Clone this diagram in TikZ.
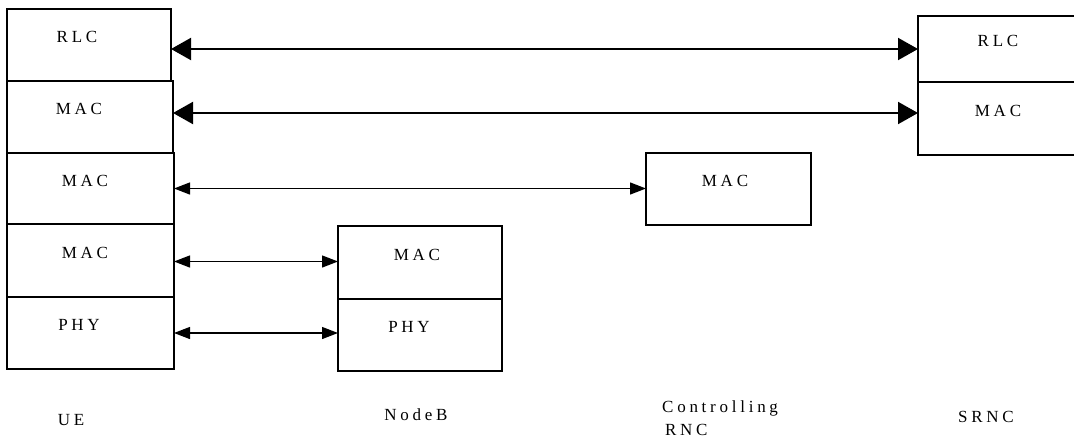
\documentclass[tikz,border=0pt]{standalone}
\usepackage{fontspec}
\setmainfont{Liberation Serif}
\usetikzlibrary{arrows.meta,positioning}

\newcommand{\spacedfont}{\fontsize{17}{20}\selectfont\addfontfeature{LetterSpace=22}}

\tikzset{
  layer/.style={draw,line width=1.2pt,outer sep=0pt,anchor=north west,
    minimum height=72pt,text depth=16pt,font=\spacedfont},
  lshift/.style={execute at end node={\hspace*{#1}}},
  bigarrow/.style={line width=2pt,
    {Triangle[length=20pt,width=22pt]}-{Triangle[length=20pt,width=22pt]}},
  smallarrow/.style={line width=1.3pt,
    {Triangle[length=16pt,width=12pt]}-{Triangle[length=16pt,width=12pt]}},
  entity/.style={inner sep=0pt,font=\spacedfont}
}

\begin{document}
\begin{tikzpicture}[x=1pt,y=-1pt]
\useasboundingbox (0,0) rectangle (1074,439);

% UE stack
\node[layer,lshift=24pt,minimum width=164pt] (uerlc) at (7,9) {RLC};
\node[layer,lshift=22pt,minimum width=166pt] (uemaca) at (7,81) {MAC};
\node[layer,lshift=11pt,minimum width=167pt,minimum height=71pt] (uemacb) at (7,153) {MAC};
\node[layer,lshift=11pt,minimum width=167pt,minimum height=73pt] (uemacc) at (7,224) {MAC};
\node[layer,lshift=23pt,minimum width=167pt] (uephy) at (7,297) {PHY};

% NodeB
\node[layer,lshift=6pt,minimum width=164pt,minimum height=73pt] (nbmac) at (338,226) {MAC};
\node[layer,lshift=22pt,minimum width=164pt] (nbphy) at (338,299) {PHY};

% Controlling RNC
\node[layer,lshift=7pt,minimum width=165pt] (crncmac) at (646,153) {MAC};

% SRNC (cut at the right edge)
\node[layer,minimum width=160pt,minimum height=66pt] (srncrlc) at (918,16) {RLC};
\node[layer,minimum width=160pt,minimum height=73pt] (srncmac) at (918,82) {MAC};

% peer links
\draw[bigarrow] (uerlc.east |- srncrlc.west) -- (srncrlc.west);
\draw[bigarrow] ([yshift=4pt]uemaca.east) -- ([yshift=4pt]uemaca.east -| srncmac.west);
\draw[smallarrow] (uemacb.east) -- (uemacb.east -| crncmac.west);
\draw[smallarrow] ([yshift=-1pt]uemacc.east) -- ([yshift=-1pt]uemacc.east -| nbmac.west);
\draw[smallarrow] (uephy.east) -- (uephy.east -| nbphy.west);

% entity names
\node[entity,anchor=base] (lblue) at (71,425) {UE};
\node[entity,anchor=base] (lblnb) at (416,420) {NodeB};
\node[entity,anchor=north west,align=left] (lblcrnc) at (662,400) {Controlling\\[4pt]\,RNC};
\node[entity,anchor=base] (lblsrnc) at (986,422) {SRNC};
\end{tikzpicture}
\end{document}
